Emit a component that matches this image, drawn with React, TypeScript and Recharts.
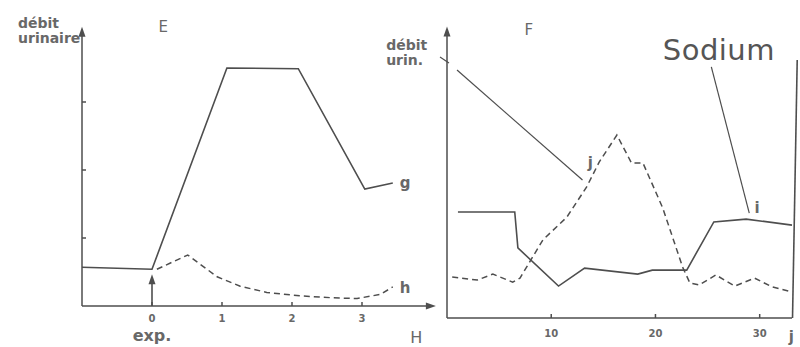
import React from 'react';
import {
  LineChart,
  Line,
  XAxis,
  YAxis,
  ReferenceLine,
  ReferenceDot,
} from 'recharts';

// Panel E: hours after the experiment, urine flow
const gHours = [-1, 0, 1.07, 2.09, 3.04, 3.44];
const gFlow = [0.57, 0.54, 3.5, 3.49, 1.72, 1.81];
const hHours = [0.07, 0.51, 0.93, 1.26, 1.64, 2.11, 2.59, 2.93, 3.26, 3.44];
const hFlow = [0.54, 0.75, 0.43, 0.29, 0.2, 0.15, 0.12, 0.11, 0.17, 0.28];
const eTicks = [0, 1, 2, 3];

// Panel F: days, sodium (i) and urine flow (j)
const iDays = [1.05, 6.5, 6.8, 10.7, 13.2, 18.3, 19.7, 23.0, 25.6, 28.7, 33.1];
const iSodium = [3.72, 3.72, 2.46, 1.12, 1.75, 1.54, 1.68, 1.68, 3.37, 3.47, 3.26];
const jDays = [
  0.5, 2.9, 4.4, 6.3, 7.0, 9.2, 11.5, 13.4, 14.6, 16.3, 17.7, 18.8, 20.7, 22.6, 23.3,
  24.2, 25.8, 27.6, 29.5, 31.2, 33.1,
];
const jFlow = [
  1.44, 1.33, 1.54, 1.26, 1.4, 2.74, 3.54, 4.6, 5.47, 6.42, 5.44, 5.44, 3.86, 1.79, 1.23,
  1.16, 1.51, 1.12, 1.4, 1.09, 0.91,
];
const fTicks = [10, 20, 30];

const toPoints = (xs: number[], ys: number[]) => xs.map((x, i) => ({ x, y: ys[i] }));

const INK = '#4e4e4e';
const TEXT = '#686868';
const FONT = '"DejaVu Sans", sans-serif';

const arrowUp = (p: any) => (
  <path d={`M${p.cx},${p.cy - 6} L${p.cx - 3.5},${p.cy + 4} L${p.cx + 3.5},${p.cy + 4} Z`} fill={INK} />
);
const arrowRight = (p: any) => (
  <path d={`M${p.cx + 6},${p.cy} L${p.cx - 4},${p.cy - 3.5} L${p.cx - 4},${p.cy + 3.5} Z`} fill={INK} />
);

const label = (text: string, size = 13, anchor: 'start' | 'middle' = 'start', style: any = {}) =>
  (p: any) => (
    <text
      x={p.cx}
      y={p.cy}
      fontSize={size}
      textAnchor={anchor}
      fontFamily={FONT}
      fontWeight="bold"
      fill={TEXT}
      {...style}
    >
      {text}
    </text>
  );

const tickStyle = { fontSize: 10, fill: TEXT, fontFamily: FONT, fontWeight: 'bold' };

export default function App() {
  const gData = toPoints(gHours, gFlow);
  const hData = toPoints(hHours, hFlow);
  const iData = toPoints(iDays, iSodium);
  const jData = toPoints(jDays, jFlow);

  return (
    <div
      style={{
        position: 'absolute',
        left: 0,
        top: 0,
        width: 800,
        height: 347,
        background: '#fff',
        overflow: 'hidden',
      }}
    >
      {/* Panel E */}
      <div style={{ position: 'absolute', left: 0, top: 0 }}>
        <LineChart width={440} height={347} margin={{ top: 34, right: 8, bottom: 0, left: 72 }}>
          <XAxis
            type="number"
            dataKey="x"
            domain={[-1, 4]}
            ticks={eTicks}
            height={41}
            stroke={INK}
            strokeWidth={1.5}
            tickSize={-4}
            tickMargin={13}
            tick={tickStyle}
            allowDuplicatedCategory={false}
          />
          <YAxis
            type="number"
            dataKey="y"
            domain={[0, 4]}
            ticks={[1, 2, 3]}
            width={10}
            tickSize={-4}
            tickFormatter={() => ''}
            stroke={INK}
            strokeWidth={1.5}
          />
          <Line data={gData} dataKey="y" type="linear" stroke={INK} strokeWidth={1.6} dot={false} isAnimationActive={false} />
          <Line data={hData} dataKey="y" type="linear" stroke={INK} strokeWidth={1.5} strokeDasharray="6 4" dot={false} isAnimationActive={false} />
          <ReferenceLine segment={[{ x: 0, y: 0 }, { x: 0, y: 0.34 }]} stroke={INK} strokeWidth={1.6} ifOverflow="visible" />
          <ReferenceDot x={0} y={0.38} ifOverflow="visible" shape={arrowUp} />
          <ReferenceDot x={-1} y={4.02} ifOverflow="visible" shape={arrowUp} />
          <ReferenceDot x={3.97} y={0} ifOverflow="visible" shape={arrowRight} />
          <ReferenceDot x={-1.914} y={4.09} ifOverflow="visible" shape={label('débit', 14)} />
          <ReferenceDot x={-1.914} y={3.87} ifOverflow="visible" shape={label('urinaire', 14)} />
          <ReferenceDot x={0.16} y={4.03} ifOverflow="visible" shape={label('E', 15, 'middle', { fontWeight: 'normal' })} />
          <ReferenceDot x={3.54} y={1.74} ifOverflow="visible" shape={label('g', 15)} />
          <ReferenceDot x={3.54} y={0.19} ifOverflow="visible" shape={label('h', 15)} />
          <ReferenceDot x={0} y={-0.51} ifOverflow="visible" shape={label('exp.', 16, 'middle')} />
          <ReferenceDot x={3.69} y={-0.54} ifOverflow="visible" shape={label('H', 16, 'start', { fontWeight: 'normal' })} />
        </LineChart>
      </div>

      {/* Panel F */}
      <div style={{ position: 'absolute', left: 380, top: 0 }}>
        <LineChart width={420} height={347} margin={{ top: 33, right: 8, bottom: 0, left: 57 }}>
          <XAxis
            type="number"
            dataKey="x"
            domain={[0, 33]}
            ticks={fTicks}
            height={29}
            stroke={INK}
            strokeWidth={1.5}
            tickSize={-4}
            tickMargin={16}
            tick={tickStyle}
            allowDuplicatedCategory={false}
          />
          <YAxis type="number" dataKey="y" domain={[0, 10]} width={10} tick={false} tickLine={false} stroke={INK} strokeWidth={1.5} />
          <Line data={iData} dataKey="y" type="linear" stroke={INK} strokeWidth={1.6} dot={false} isAnimationActive={false} />
          <Line data={jData} dataKey="y" type="linear" stroke={INK} strokeWidth={1.5} strokeDasharray="6 4" dot={false} isAnimationActive={false} />
          <ReferenceLine segment={[{ x: 33.15, y: 0 }, { x: 33.6, y: 9.05 }]} stroke={INK} strokeWidth={1.6} ifOverflow="visible" />
          <ReferenceLine segment={[{ x: 0.96, y: 8.7 }, { x: 13.0, y: 4.84 }]} stroke={INK} strokeWidth={1.2} ifOverflow="visible" />
          <ReferenceLine segment={[{ x: -0.67, y: 9.16 }, { x: 0.19, y: 8.95 }]} stroke={INK} strokeWidth={1.2} ifOverflow="visible" />
          <ReferenceLine segment={[{ x: 25.36, y: 8.81 }, { x: 29.0, y: 3.68 }]} stroke={INK} strokeWidth={1.2} ifOverflow="visible" />
          <ReferenceDot x={0} y={10.02} ifOverflow="visible" shape={arrowUp} />
          <ReferenceDot x={-5.84} y={9.4} ifOverflow="visible" shape={label('débit', 14)} />
          <ReferenceDot x={-5.84} y={8.88} ifOverflow="visible" shape={label('urin.', 14)} />
          <ReferenceDot x={7.85} y={9.93} ifOverflow="visible" shape={label('F', 15, 'middle', { fontWeight: 'normal' })} />
          <ReferenceDot x={13.5} y={5.26} ifOverflow="visible" shape={label('j', 15)} />
          <ReferenceDot x={29.5} y={3.68} ifOverflow="visible" shape={label('i', 15)} />
          <ReferenceDot x={20.7} y={9.05} ifOverflow="visible" shape={label('Sodium', 29, 'start', { fontWeight: 'normal', fill: '#555', letterSpacing: 0.5 })} />
          <ReferenceDot x={32.8} y={-0.84} ifOverflow="visible" shape={label('j', 15)} />
        </LineChart>
      </div>
    </div>
  );
}
